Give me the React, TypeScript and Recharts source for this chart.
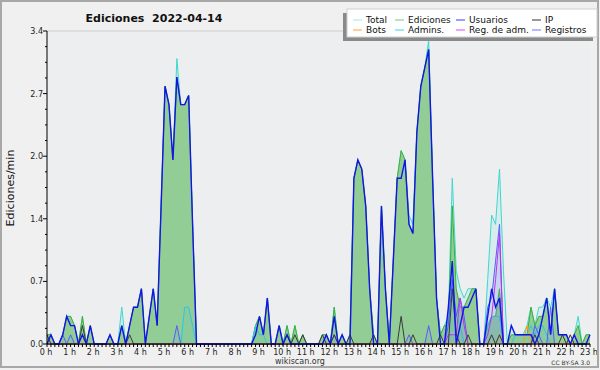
import React from "react";
import { ComposedChart, Area, XAxis, YAxis, CartesianGrid } from "recharts";

// 10-minute bins, 0:00 .. 23:00 (values in edits/min)
const total = [
  0.1, 0.1, 0, 0, 0.1, 0.3,
  0.3, 0.2, 0, 0.3, 0, 0.2,
  0, 0, 0, 0, 0.1, 0,
  0, 0.4, 0, 0.2, 0.4, 0.4,
  0.6, 0, 0.3, 0.6, 0.2, 1.5,
  2.8, 2.6, 2.0, 3.1, 2.6, 2.6,
  2.7, 1.3, 0, 0, 0, 0,
  0, 0, 0, 0, 0, 0,
  0, 0, 0, 0, 0, 0.2,
  0.3, 0.1, 0.5, 0, 0, 0.2,
  0, 0.2, 0, 0.2, 0, 0.1,
  0, 0, 0, 0, 0.1, 0.1,
  0, 0.4, 0, 0.1, 0, 0.1,
  1.8, 2.0, 1.9, 1.5, 0.6, 0.1,
  0, 1.5, 0.6, 0, 0.9, 1.8,
  2.1, 2.0, 1.4, 1.3, 2.3, 2.8,
  3.0, 3.3, 1.8, 0.5, 0.1, 0.2,
  0.3, 1.8, 0.8, 0.6, 0.5, 0.6,
  0.6, 0.6, 0, 0, 0.7, 1.4,
  1.3, 1.9, 0.8, 0, 0.2, 0.1,
  0.1, 0.1, 0.2, 0.4, 0.2, 0.4,
  0.4, 0.5, 0.4, 0.6, 0.1, 0.1,
  0.1, 0, 0.1, 0.3, 0, 0.1,
  0.1,
];

const ediciones = [
  0.1, 0.1, 0, 0, 0.1, 0.3,
  0.3, 0.2, 0, 0.3, 0, 0.2,
  0, 0, 0, 0, 0.1, 0,
  0, 0.2, 0, 0.2, 0.4, 0.4,
  0.6, 0, 0.3, 0.6, 0.2, 1.5,
  2.8, 2.6, 2.0, 2.9, 2.6, 2.6,
  2.7, 1.3, 0, 0, 0, 0,
  0, 0, 0, 0, 0, 0,
  0, 0, 0, 0, 0, 0.2,
  0.3, 0.1, 0.5, 0, 0, 0.2,
  0, 0.2, 0, 0.2, 0, 0.1,
  0, 0, 0, 0, 0.1, 0.1,
  0, 0.4, 0, 0.1, 0, 0.1,
  1.8, 2.0, 1.9, 1.5, 0.6, 0.1,
  0, 1.5, 0.6, 0, 0.9, 1.8,
  2.1, 2.0, 1.3, 1.2, 2.3, 2.8,
  3.0, 3.2, 1.8, 0.5, 0.1, 0.2,
  0.2, 1.5, 0.6, 0.4, 0.4, 0.5,
  0.6, 0.6, 0, 0, 0.2, 0.3,
  0.3, 0.6, 0, 0, 0.1, 0.1,
  0.1, 0.1, 0.1, 0.4, 0.2, 0.3,
  0.3, 0.5, 0.1, 0.6, 0.1, 0.1,
  0.1, 0, 0.1, 0.2, 0, 0.1,
  0.1,
];

const usuarios = [
  0, 0.1, 0, 0, 0.1, 0.3,
  0.2, 0.2, 0, 0.1, 0, 0.2,
  0, 0, 0, 0, 0.1, 0,
  0, 0.2, 0, 0.2, 0.4, 0.4,
  0.6, 0, 0.3, 0.6, 0.2, 1.5,
  2.8, 2.6, 2.0, 2.9, 2.6, 2.6,
  2.7, 1.3, 0, 0, 0, 0,
  0, 0, 0, 0, 0, 0,
  0, 0, 0, 0, 0, 0.1,
  0.3, 0.1, 0.5, 0, 0, 0.2,
  0, 0.1, 0, 0, 0, 0,
  0, 0, 0, 0, 0, 0.1,
  0, 0.3, 0, 0.1, 0, 0,
  1.8, 2.0, 1.9, 1.5, 0.6, 0,
  0, 1.5, 0.6, 0, 0.9, 1.8,
  1.8, 2.0, 1.3, 1.2, 2.3, 2.8,
  3.0, 3.2, 1.8, 0.5, 0, 0,
  0.4, 0.9, 0, 0.2, 0.4, 0.4,
  0.5, 0.6, 0, 0, 0.3, 0.6,
  0.4, 0.5, 0, 0, 0.2, 0.1,
  0.1, 0.1, 0.1, 0.1, 0, 0.1,
  0.3, 0.5, 0.1, 0.6, 0.1, 0.1,
  0.1, 0, 0.1, 0, 0, 0,
  0.1,
];

const ip = [
  0.1, 0, 0, 0, 0, 0,
  0, 0, 0, 0.2, 0, 0,
  0, 0, 0, 0, 0, 0,
  0, 0, 0, 0.1, 0, 0,
  0, 0, 0, 0, 0, 0,
  0, 0, 0, 0, 0, 0,
  0, 0, 0, 0, 0, 0,
  0, 0, 0, 0, 0, 0,
  0, 0, 0, 0, 0, 0,
  0, 0, 0, 0, 0, 0,
  0, 0.1, 0, 0.1, 0, 0.1,
  0, 0, 0, 0, 0.1, 0,
  0, 0.1, 0, 0, 0, 0.1,
  0, 0, 0, 0, 0, 0.1,
  0, 0, 0, 0, 0, 0,
  0.3, 0, 0, 0.1, 0, 0,
  0, 0, 0, 0, 0.1, 0,
  0, 0.6, 0.1, 0, 0, 0.1,
  0, 0, 0, 0, 0, 0.1,
  0, 0.1, 0, 0, 0, 0,
  0, 0, 0, 0, 0.1, 0,
  0, 0, 0, 0, 0, 0.1,
  0, 0.1, 0, 0, 0, 0,
  0,
];

const bots = [
  0, 0, 0, 0, 0, 0,
  0, 0, 0, 0, 0, 0,
  0, 0, 0, 0, 0, 0,
  0, 0, 0, 0, 0, 0,
  0, 0, 0, 0, 0, 0,
  0, 0, 0, 0, 0, 0,
  0, 0, 0, 0, 0, 0,
  0, 0, 0, 0, 0, 0,
  0, 0, 0, 0, 0, 0,
  0, 0, 0, 0, 0, 0,
  0, 0, 0, 0, 0, 0,
  0, 0, 0, 0, 0, 0,
  0, 0, 0, 0, 0, 0,
  0, 0, 0, 0, 0, 0,
  0, 0, 0, 0, 0, 0,
  0, 0, 0, 0, 0, 0,
  0, 0, 0, 0, 0, 0,
  0, 0, 0, 0, 0, 0,
  0, 0, 0, 0, 0, 0,
  0, 0.1, 0, 0, 0, 0,
  0, 0, 0.2, 0, 0, 0,
  0, 0, 0, 0, 0, 0,
  0, 0, 0, 0, 0, 0,
  0,
];

const admins = [
  0, 0, 0, 0, 0, 0,
  0, 0, 0, 0, 0, 0,
  0, 0, 0, 0, 0, 0,
  0, 0, 0, 0, 0, 0,
  0, 0, 0, 0, 0, 0,
  0, 0, 0, 0, 0, 0.4,
  0.4, 0.2, 0, 0, 0, 0,
  0, 0, 0, 0, 0, 0,
  0, 0, 0, 0, 0, 0.2,
  0.1, 0.1, 0, 0, 0, 0,
  0, 0, 0, 0, 0, 0,
  0, 0, 0, 0, 0, 0,
  0, 0, 0, 0, 0, 0,
  0, 0, 0, 0, 0, 0,
  0, 0, 0, 0, 0, 0,
  0, 0, 0, 0, 0, 0,
  0, 0, 0, 0, 0, 0,
  0.3, 0.7, 0.3, 0.2, 0, 0,
  0, 0, 0, 0, 0.2, 0.3,
  0.3, 0.3, 0, 0, 0, 0.1,
  0.1, 0.1, 0.1, 0.2, 0.1, 0.2,
  0.2, 0.1, 0, 0, 0, 0,
  0, 0, 0, 0, 0, 0,
  0,
];

const regAdm = [
  0, 0, 0, 0, 0, 0,
  0, 0, 0, 0, 0, 0,
  0, 0, 0, 0, 0, 0,
  0, 0, 0, 0, 0, 0,
  0, 0, 0, 0, 0, 0,
  0, 0, 0, 0, 0, 0,
  0, 0, 0, 0, 0, 0,
  0, 0, 0, 0, 0, 0,
  0, 0, 0, 0, 0, 0,
  0, 0, 0, 0, 0, 0,
  0, 0, 0, 0, 0, 0,
  0, 0, 0, 0, 0, 0,
  0, 0, 0, 0, 0, 0,
  0, 0, 0, 0, 0, 0,
  0, 0, 0, 0, 0, 0,
  0, 0, 0, 0, 0, 0,
  0, 0, 0, 0, 0, 0,
  0.1, 0.1, 0.1, 0.5, 0.2, 0,
  0, 0, 0, 0, 0.1, 0.3,
  0.7, 1.2, 0, 0, 0, 0,
  0, 0, 0, 0, 0, 0,
  0, 0, 0, 0, 0, 0,
  0, 0, 0, 0, 0, 0,
  0,
];

const registros = [
  0, 0, 0, 0, 0.1, 0,
  0.1, 0, 0, 0, 0, 0,
  0, 0, 0, 0, 0, 0,
  0, 0, 0, 0, 0, 0,
  0, 0, 0, 0, 0, 0,
  0, 0, 0, 0.2, 0, 0,
  0, 0, 0, 0, 0, 0,
  0, 0, 0, 0, 0, 0,
  0, 0, 0, 0, 0, 0,
  0, 0, 0, 0, 0, 0,
  0, 0, 0, 0, 0, 0,
  0, 0, 0, 0, 0, 0.1,
  0, 0.1, 0, 0, 0, 0,
  0, 0, 0, 0, 0, 0,
  0, 0, 0, 0, 0, 0,
  0, 0, 0.1, 0, 0, 0,
  0, 0.2, 0, 0, 0, 0,
  0.2, 0.7, 0.3, 0.5, 0.3, 0,
  0, 0, 0, 0, 0.4, 0.5,
  0.9, 1.3, 0, 0, 0, 0,
  0, 0, 0, 0, 0.2, 0.1,
  0, 0, 0.4, 0, 0, 0,
  0, 0, 0, 0, 0, 0,
  0,
];

const hourLabels = [
  "0 h", "1 h", "2 h", "3 h", "4 h", "5 h", "6 h", "7 h", "8 h", "9 h", "10 h", "11 h",
  "12 h", "13 h", "14 h", "15 h", "16 h", "17 h", "18 h", "19 h", "20 h", "21 h", "22 h", "23 h",
];

const yTicks = [0, 0.17, 0.34, 0.51, 0.68, 0.85, 1.02, 1.19, 1.36, 1.53, 1.7, 1.87, 2.04, 2.21, 2.38, 2.55, 2.72, 2.89, 3.06, 3.23, 3.4];
const yMajorTicks = [0, 0.68, 1.36, 2.04, 2.72, 3.4];

const legendItems = [
  { name: "Total", color: "#9ee9e6" },
  { name: "Ediciones", color: "#6fcf72" },
  { name: "Usuarios", color: "#3a3aff" },
  { name: "IP", color: "#333333" },
  { name: "Bots", color: "#ffa030" },
  { name: "Admins.", color: "#40d0f0" },
  { name: "Reg. de adm.", color: "#dd44ff" },
  { name: "Registros", color: "#7070ff" },
];

const data = total.map((t, i) => ({
  i,
  total: t,
  ediciones: ediciones[i],
  usuarios: usuarios[i],
  ip: ip[i],
  bots: bots[i],
  admins: admins[i],
  regAdm: regAdm[i],
  registros: registros[i],
}));

const xTicks = data.map((d) => d.i);
const FONT = "DejaVu Sans";

const XTick = (props: any) => {
  const { x, y, payload } = props;
  const v = payload.value as number;
  const isHour = v % 6 === 0;
  return (
    <g>
      <line x1={x} y1={y} x2={x} y2={y + 3} stroke="#000" strokeWidth={1} />
      {isHour && (
        <text x={x - 1} y={y + 11} textAnchor="middle" fontSize={8} fontFamily={FONT} fill="#222">
          {hourLabels[v / 6]}
        </text>
      )}
    </g>
  );
};

const YTick = (props: any) => {
  const { x, y, payload, index } = props;
  const major = index % 4 === 0;
  return (
    <g>
      <line x1={x - (major ? 4 : 2)} y1={y} x2={x} y2={y} stroke="#000" strokeWidth={1} />
      {major && (
        <text x={x - 4} y={y + 3} textAnchor="end" fontSize={8} fontFamily={FONT} fill="#222">
          {(payload.value as number).toFixed(1)}
        </text>
      )}
    </g>
  );
};

const common = { type: "linear" as const, dot: false, activeDot: false, isAnimationActive: false };

export default function App() {
  const legendCols = [353, 395, 456, 532];
  const legendRows = [23, 33];
  return (
    <div style={{ position: "absolute", left: 0, top: 0, width: 600, height: 370, background: "#f0f0f0", overflow: "hidden" }}>
      <ComposedChart width={600} height={370} data={data} margin={{ top: 31, right: 10, bottom: 6, left: 7 }}>
        <CartesianGrid yAxisId="grid" horizontal={true} vertical={false} stroke="#cdcdcd" fill="#eceef0" />
        <XAxis
          dataKey="i"
          type="number"
          domain={[0, 138]}
          ticks={xTicks}
          interval={0}
          height={20}
          tickSize={0}
          tickMargin={0}
          tickLine={false}
          axisLine={{ stroke: "#000" }}
          tick={<XTick />}
        />
        <YAxis
          type="number"
          domain={[0, 3.4]}
          ticks={yTicks}
          interval={0}
          width={40}
          tickSize={0}
          tickMargin={0}
          tickLine={false}
          axisLine={{ stroke: "#000" }}
          tick={<YTick />}
        />
        <YAxis yAxisId="grid" hide type="number" domain={[0, 3.4]} ticks={yMajorTicks} interval={0} />
        <Area {...common} dataKey="total" stroke="#3ed8cc" strokeWidth={1} fill="#5fe0d8" fillOpacity={0.13} />
        <Area {...common} dataKey="ediciones" stroke="#3caf3c" strokeWidth={1} fill="#8ecb91" fillOpacity={0.95} />
        <Area {...common} dataKey="admins" stroke="#2ec4e6" strokeWidth={1} fill="#2ec4e6" fillOpacity={0.08} />
        <Area {...common} dataKey="registros" stroke="#5a5aff" strokeWidth={1} fill="#6a8cff" fillOpacity={0.15} />
        <Area {...common} dataKey="regAdm" stroke="#bb33ee" strokeWidth={1} fill="#bb33ee" fillOpacity={0.05} />
        <Area {...common} dataKey="bots" stroke="#ff9a1a" strokeWidth={1} fill="none" />
        <Area {...common} dataKey="ip" stroke="#3a3a3a" strokeWidth={1} fill="none" />
        <Area {...common} dataKey="usuarios" stroke="#1414e6" strokeWidth={1.4} fill="none" />
      </ComposedChart>
      <svg width={600} height={370} style={{ position: "absolute", left: 0, top: 0, pointerEvents: "none" }}>
        <rect x={1} y={1} width={597} height={366} fill="none" stroke="#a8a8a8" strokeWidth={2} />
        <text x={154} y={22} textAnchor="middle" fontSize={11} fontWeight="bold" fontFamily={FONT} fill="#111">
          {"Ediciones\u00a0\u00a02022-04-14"}
        </text>
        <text
          x={14}
          y={188}
          textAnchor="middle"
          fontSize={11}
          fontFamily={FONT}
          fill="#111"
          transform="rotate(-90 14 188)"
        >
          Ediciones/min
        </text>
        <text x={300} y={364} textAnchor="middle" fontSize={8} fontFamily={FONT} fill="#333">
          wikiscan.org
        </text>
        <text x={590} y={365} textAnchor="end" fontSize={6} fontFamily={FONT} fill="#333">
          CC BY-SA 3.0
        </text>
        <rect x={343} y={13} width={250} height={28} fill="#8a8a8a" />
        <rect x={347} y={9} width={250} height={28} fill="#ffffff" stroke="#cfcfcf" strokeWidth={1} />
        {legendItems.map((it, k) => {
          const cx = legendCols[k % 4];
          const cy = legendRows[Math.floor(k / 4)];
          return (
            <g key={it.name}>
              <line x1={cx} y1={cy - 3} x2={cx + 9} y2={cy - 3} stroke={it.color} strokeWidth={1} />
              <text x={cx + 13} y={cy} fontSize={9} fontFamily={FONT} fill="#111">
                {it.name}
              </text>
            </g>
          );
        })}
      </svg>
    </div>
  );
}
